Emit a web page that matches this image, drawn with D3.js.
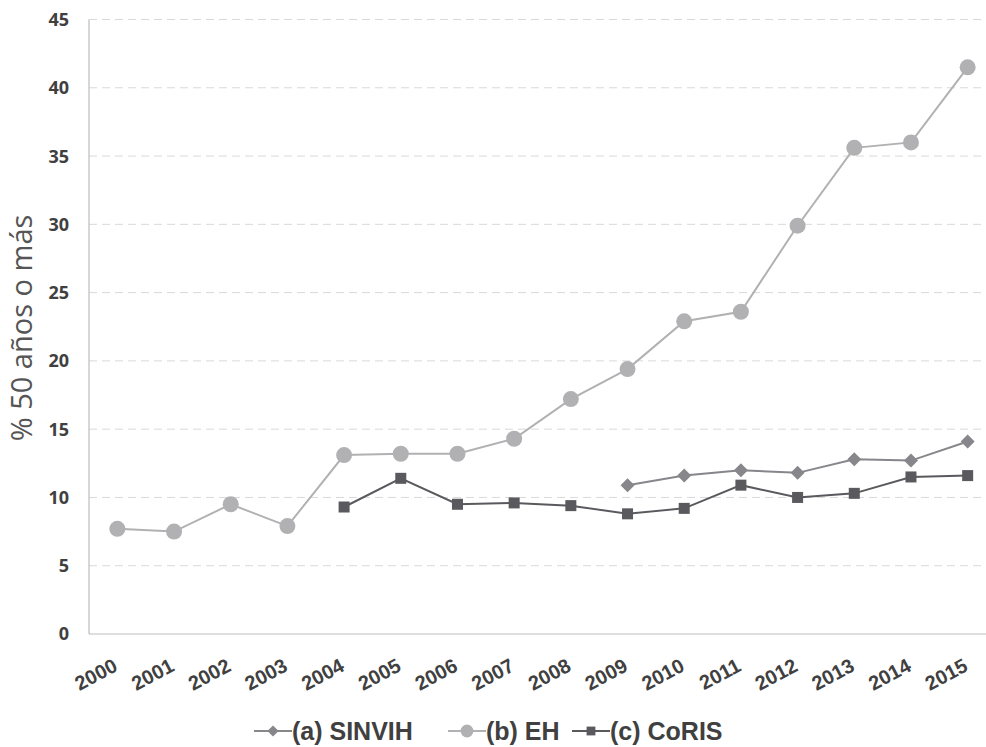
<!DOCTYPE html>
<html>
<head>
<meta charset="utf-8">
<script src="https://cdn.jsdelivr.net/npm/d3@7"></script>
<style>
  body { margin: 0; background: #fff; }
  svg { display: block; }
</style>
</head>
<body>
<svg id="chart" width="986" height="747"></svg>
<script>
const years = ['2000','2001','2002','2003','2004','2005','2006','2007','2008','2009','2010','2011','2012','2013','2014','2015'];
// null = no data for that year
const sinvih = [null,null,null,null,null,null,null,null,null,10.9,11.6,12.0,11.8,12.8,12.7,14.1];
const eh     = [7.7,7.5,9.5,7.9,13.1,13.2,13.2,14.3,17.2,19.4,22.9,23.6,29.9,35.6,36.0,41.5];
const coris  = [null,null,null,null,9.3,11.4,9.5,9.6,9.4,8.8,9.2,10.9,10.0,10.3,11.5,11.6];
const yTicks = [0,5,10,15,20,25,30,35,40,45];

const series = [
  { name: '(a) SINVIH', values: sinvih, color: '#86868b', shape: 'diamond' },
  { name: '(b) EH',     values: eh,     color: '#b1b1b4', shape: 'circle' },
  { name: '(c) CoRIS',  values: coris,  color: '#59595e', shape: 'square' }
];

const svg = d3.select('#chart');
const plotL = 89, plotR = 996, plotT = 19.5, plotB = 634;

const x = d3.scaleBand().domain(years).range([plotL, plotR]);
const y = d3.scaleLinear().domain([0, 45]).range([plotB, plotT]);

// gridlines
svg.append('g')
  .selectAll('line')
  .data(yTicks.filter(d => d > 0))
  .enter().append('line')
  .attr('x1', plotL).attr('x2', 986)
  .attr('y1', d => y(d)).attr('y2', d => y(d))
  .style('stroke', '#d9d9d9')
  .style('stroke-width', 1)
  .style('stroke-dasharray', '8,5');

// axes lines
svg.append('line')
  .attr('x1', plotL).attr('x2', plotL).attr('y1', plotT).attr('y2', plotB)
  .style('stroke', '#bdbdbd').style('stroke-width', 1.2);
svg.append('line')
  .attr('x1', plotL).attr('x2', 986).attr('y1', plotB).attr('y2', plotB)
  .style('stroke', '#bdbdbd').style('stroke-width', 1.2);

// y tick labels
svg.append('g')
  .selectAll('text')
  .data(yTicks)
  .enter().append('text')
  .attr('x', 69)
  .attr('y', d => y(d))
  .attr('dy', '0.36em')
  .attr('text-anchor', 'end')
  .style('font-family', 'Open Sans, sans-serif')
  .style('font-weight', 'bold')
  .style('font-size', '18px')
  .style('fill', '#404040')
  .text(d => d);

// x tick labels, rotated
svg.append('g')
  .selectAll('text')
  .data(years)
  .enter().append('text')
  .attr('transform', d => `translate(${x(d) + x.bandwidth() / 2 + 1.5},${plotB + 36}) rotate(-28)`)
  .attr('text-anchor', 'end')
  .style('font-family', 'Liberation Sans, Arial, sans-serif')
  .style('font-weight', 'bold')
  .style('font-size', '20px')
  .style('fill', '#404040')
  .text(d => d);

// y axis title
svg.append('text')
  .attr('transform', 'translate(32,328) rotate(-90)')
  .attr('text-anchor', 'middle')
  .style('font-family', 'Open Sans, sans-serif')
  .style('font-size', '29px')
  .style('fill', '#555')
  .text('% 50 años o más');

const cx = (d, i) => x(years[i]) + x.bandwidth() / 2;

function drawMarker(g, shape, color) {
  if (shape === 'circle') {
    g.append('circle').attr('r', 8).style('fill', color);
  } else if (shape === 'square') {
    g.append('rect').attr('x', -5.5).attr('y', -5.5).attr('width', 11).attr('height', 11).style('fill', color);
  } else {
    g.append('path').attr('d', 'M0,-7L7,0L0,7L-7,0Z').style('fill', color);
  }
}

series.forEach(s => {
  const line = d3.line()
    .defined(d => d !== null)
    .x(cx)
    .y(d => y(d));
  svg.append('path')
    .datum(s.values)
    .attr('d', line)
    .style('fill', 'none')
    .style('stroke', s.color)
    .style('stroke-width', 2);

  svg.append('g')
    .selectAll('g')
    .data(s.values.map((v, i) => ({ v, i })).filter(d => d.v !== null))
    .enter().append('g')
    .attr('transform', d => `translate(${cx(d.v, d.i)},${y(d.v)})`)
    .each(function () { drawMarker(d3.select(this), s.shape, s.color); });
});

// legend
const legendX = [254, 448, 572];
series.forEach((s, k) => {
  const g = svg.append('g').attr('transform', `translate(${legendX[k]},731)`);
  g.append('line').attr('x1', 0).attr('x2', 38).attr('y1', 0).attr('y2', 0)
    .style('stroke', s.color).style('stroke-width', 2);
  const m = g.append('g').attr('transform', 'translate(19,0) scale(0.8)');
  drawMarker(m, s.shape, s.color);
  g.append('text')
    .attr('x', 38)
    .attr('y', 0)
    .attr('dy', '0.36em')
    .style('font-family', 'Liberation Sans, Arial, sans-serif')
    .style('font-weight', 'bold')
    .style('font-size', '25px')
    .style('fill', '#404040')
    .text(s.name);
});
</script>
</body>
</html>
